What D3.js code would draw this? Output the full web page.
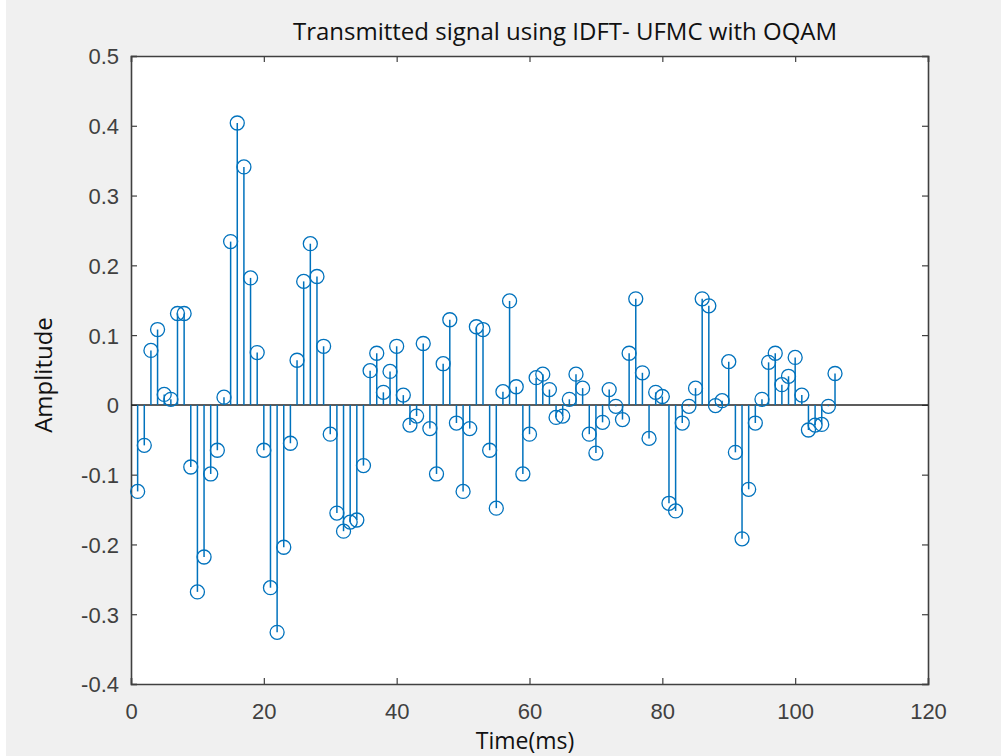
<!DOCTYPE html>
<html><head><meta charset="utf-8">
<script src="https://cdn.jsdelivr.net/npm/d3@7"></script>
<style>
html,body{margin:0;padding:0;background:#f0f0f0;}
svg{display:block;}
</style></head>
<body>
<script>
const title = "Transmitted signal using IDFT- UFMC with OQAM";
const xLabel = "Time(ms)";
const yLabel = "Amplitude";
const xTicks = [0, 20, 40, 60, 80, 100, 120];
const yTicks = [-0.4, -0.3, -0.2, -0.1, 0, 0.1, 0.2, 0.3, 0.4, 0.5];
const amplitude = [
 -0.124, -0.058, 0.078, 0.108, 0.015, 0.008, 0.131, 0.131, -0.089, -0.268,
 -0.218, -0.099, -0.065, 0.011, 0.234, 0.404, 0.341, 0.182, 0.075, -0.065,
 -0.262, -0.326, -0.204, -0.055, 0.064, 0.177, 0.231, 0.184, 0.084, -0.042,
 -0.155, -0.181, -0.168, -0.165, -0.087, 0.049, 0.074, 0.018, 0.048, 0.084,
 0.014, -0.029, -0.016, 0.088, -0.034, -0.099, 0.059, 0.122, -0.026, -0.124,
 -0.034, 0.112, 0.108, -0.065, -0.148, 0.019, 0.149, 0.026, -0.099, -0.042,
 0.039, 0.044, 0.022, -0.018, -0.016, 0.008, 0.044, 0.024, -0.042, -0.069,
 -0.025, 0.022, -0.002, -0.021, 0.074, 0.152, 0.046, -0.048, 0.018, 0.012,
 -0.141, -0.152, -0.026, -0.002, 0.024, 0.152, 0.142, -0.001, 0.006, 0.062,
 -0.068, -0.192, -0.121, -0.026, 0.008, 0.061, 0.074, 0.029, 0.041, 0.068,
 0.014, -0.036, -0.029, -0.028, -0.002, 0.045
];
const time = amplitude.map((_, i) => i + 1);

const W = 1001, H = 756;
const L = 131, R = 928, T = 56, B = 684;
const svg = d3.select("body").append("svg").attr("width", W).attr("height", H);
svg.append("rect").attr("width", W).attr("height", H).attr("fill", "#f0f0f0");
svg.append("rect").attr("width", 6).attr("height", H).attr("fill", "#ffffff");

const x = d3.scaleLinear().domain([0, 120]).range([L, R]);
const y = d3.scaleLinear().domain([-0.4, 0.5]).range([B, T]);

svg.append("rect").attr("x", L).attr("y", T).attr("width", R - L).attr("height", B - T).attr("fill", "#fff");

const tickFont = "'Liberation Sans', Arial, sans-serif";
const axisColor = "#404040";
const fmtY = d => d === 0 ? "0" : d3.format(".1f")(d).replace("\u2212", "-");

const gx = svg.append("g").attr("transform", `translate(0,${B})`)
  .call(d3.axisBottom(x).tickValues(xTicks).tickSize(-6).tickPadding(19).tickFormat(d3.format("d")));
const gy = svg.append("g").attr("transform", `translate(${L},0)`)
  .call(d3.axisLeft(y).tickValues(yTicks).tickSize(-6).tickPadding(12).tickFormat(fmtY));
const gt = svg.append("g").attr("transform", `translate(0,${T})`)
  .call(d3.axisTop(x).tickValues(xTicks).tickSize(-6).tickFormat(""));
const gr = svg.append("g").attr("transform", `translate(${R},0)`)
  .call(d3.axisRight(y).tickValues(yTicks).tickSize(-6).tickFormat(""));

[gx, gy, gt, gr].forEach(g => {
  g.select(".domain").attr("stroke", axisColor).attr("stroke-width", 1.6);
  g.selectAll(".tick line").attr("stroke", axisColor).attr("stroke-width", 1.2);
  g.selectAll(".tick text").attr("fill", "#404040").style("font-family", tickFont).style("font-size", "22px");
});
gy.selectAll(".tick text").attr("dy", "0.36em");

svg.append("line").attr("x1", x(0)).attr("x2", x(120)).attr("y1", y(0)).attr("y2", y(0))
  .attr("stroke", "#262626").attr("stroke-width", 1.5);

const color = "#0072BD";
const data = time.map((t, i) => ({t, v: amplitude[i]}));
svg.append("g").selectAll("line").data(data).join("line")
  .attr("x1", d => x(d.t)).attr("x2", d => x(d.t))
  .attr("y1", y(0)).attr("y2", d => y(d.v))
  .attr("stroke", color).attr("stroke-width", 1.5);
svg.append("g").selectAll("circle").data(data).join("circle")
  .attr("cx", d => x(d.t)).attr("cy", d => y(d.v)).attr("r", 7)
  .attr("fill", "none").attr("stroke", color).attr("stroke-width", 1.3);

const labelFont = "'Open Sans', 'Noto Sans', sans-serif";
svg.append("text").attr("x", 565).attr("y", 40).attr("text-anchor", "middle")
  .style("font-family", labelFont).style("font-size", "24px").attr("fill", "#111").text(title);
svg.append("text").attr("x", 525).attr("y", 749).attr("text-anchor", "middle")
  .style("font-family", labelFont).style("font-size", "23px").attr("fill", "#111").text(xLabel);
svg.append("text").attr("transform", `translate(52,375) rotate(-90)`).attr("text-anchor", "middle")
  .style("font-family", labelFont).style("font-size", "24px").attr("fill", "#111").text(yLabel);
</script>
</body></html>
